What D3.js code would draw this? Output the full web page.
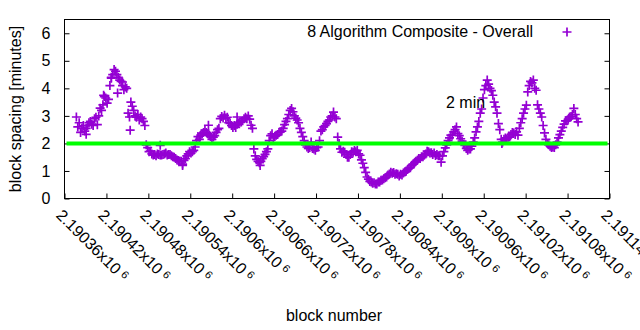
<!DOCTYPE html>
<html>
<head>
<meta charset="utf-8">
<script src="https://cdn.jsdelivr.net/npm/d3@7"></script>
<style>
  body { margin: 0; background: #fff; }
  svg { font-family: "Liberation Sans", Arial, sans-serif; }
</style>
</head>
<body>
<div id="chart"></div>
<script>
"use strict";
// block spacing, one reading every second block
const firstBlock = 2190377, blockStep = 2;
const spacing = [
  2.96,2.6,2.75,2.4,2.55,2.65,2.45,2.55,2.65,2.75,
  2.8,2.7,2.65,2.9,2.95,2.68,3.0,3.28,3.2,3.4,
  3.7,3.65,3.46,3.6,4.1,4.4,4.5,4.68,4.62,4.5,
  4.4,4.3,4.25,4.1,3.95,4.05,4.0,3.1,2.96,3.5,
  3.35,3.2,3.0,2.95,3.05,2.85,2.96,2.9,2.8,2.65,
  1.95,1.85,1.7,1.72,1.62,1.58,1.6,1.55,1.62,1.6,
  1.58,1.58,1.6,1.62,1.65,1.58,1.6,1.6,1.55,1.52,
  1.5,1.45,1.4,1.38,1.35,1.35,1.25,1.38,1.45,1.55,
  1.62,1.7,1.65,1.7,1.75,1.87,2.1,2.25,2.15,2.3,
  2.35,2.4,2.48,2.4,2.35,2.3,2.25,2.15,2.23,2.28,
  2.4,2.5,2.55,2.9,2.98,2.92,3.02,2.92,2.95,2.75,
  2.73,2.65,2.58,2.65,2.58,2.7,2.75,2.78,2.78,2.82,
  2.9,2.95,2.9,3.0,2.88,2.66,2.55,1.8,1.55,1.42,
  1.35,1.3,1.35,1.45,1.52,1.6,1.7,1.8,2.1,2.28,
  2.35,2.2,2.25,2.3,2.32,2.4,2.42,2.45,2.55,2.68,
  2.8,2.9,3.05,3.2,3.27,3.15,3.0,2.92,2.85,2.75,
  2.55,2.4,2.25,2.1,1.95,1.87,1.82,1.85,2.05,1.82,
  1.8,1.75,1.85,1.87,2.1,2.45,2.5,2.6,2.65,2.72,
  2.8,2.85,2.96,3.0,3.14,2.96,2.9,2.23,2.0,1.8,
  1.68,1.72,1.68,1.6,1.5,1.5,1.6,1.7,1.68,1.74,
  1.7,1.75,1.62,1.57,1.4,1.28,1.12,0.95,0.78,0.7,
  0.62,0.6,0.55,0.57,0.53,0.53,0.6,0.6,0.66,0.67,
  0.72,0.75,0.78,0.85,0.89,0.95,0.92,0.94,0.88,0.9,
  0.88,0.82,0.88,0.85,0.93,0.96,1.0,1.05,1.1,1.12,
  1.2,1.25,1.3,1.35,1.39,1.45,1.45,1.52,1.52,1.58,
  1.62,1.72,1.7,1.65,1.66,1.6,1.65,1.56,1.6,1.55,
  1.55,1.32,1.55,1.7,1.84,1.95,2.1,2.2,2.3,2.3,
  2.42,2.5,2.6,2.36,2.28,2.17,2.08,1.97,1.93,1.82,
  1.75,1.8,1.8,1.9,2.05,2.2,2.42,2.6,2.8,3.1,
  3.25,3.65,3.95,4.1,4.3,4.15,4.0,3.92,3.75,3.5,
  3.33,3.1,2.72,2.5,2.15,2.05,2.15,2.2,2.15,2.22,
  2.23,2.32,2.4,2.38,2.32,2.42,2.3,2.55,2.75,2.9,
  3.1,3.25,3.39,3.87,4.1,4.25,4.2,4.3,4.0,3.93,
  3.4,3.25,3.1,2.96,2.65,2.38,2.15,2.0,1.95,1.9,
  1.85,1.87,1.85,1.95,2.05,2.2,2.32,2.45,2.58,2.7,
  2.82,2.82,2.88,2.96,2.98,3.05,3.27,3.05,2.9,2.78
];
// stray points that sit off the main band
const extraBlocks  = [2190391, 2190416, 2190427, 2190436, 2190443, 2190454, 2190497, 2190529, 2190566, 2190607, 2190640, 2190986];
const extraSpacing = [2.33, 3.75, 4.37, 3.83, 4.23, 2.48, 1.93, 1.2, 2.66, 2.96, 1.2, 2.0];

const xTicks = [2190360, 2190420, 2190480, 2190540, 2190600, 2190660, 2190720,
                2190780, 2190840, 2190900, 2190960, 2191020, 2191080, 2191140];
const yTicks = [0, 1, 2, 3, 4, 5, 6];
const targetSpacing = 2;
const seriesName = "8 Algorithm Composite - Overall";
const targetName = "2 min";

const W = 640, H = 330;
const plot = { left: 64.5, right: 609.5, top: 19.5, bottom: 198.5 };
const purple = "#9400d3";
const fontSize = 16;
const cross = "M-4.5,0H4.5M0,-4.5V4.5";

let points = spacing.map((v, i) => ({ block: firstBlock + i * blockStep, value: v }));
extraBlocks.forEach((b, i) => points.push({ block: b, value: extraSpacing[i] }));

let svg = d3.select("#chart").append("svg")
    .attr("width", W).attr("height", H);

let x = d3.scaleLinear().domain([2190360, 2191140]).range([plot.left, plot.right]);
let y = d3.scaleLinear().domain([0, 6.5]).range([plot.bottom, plot.top]);

// axes (gnuplot style: ticks point inwards, y ticks mirrored)
svg.append("g")
    .attr("transform", "translate(0," + plot.bottom + ")")
    .call(d3.axisBottom(x).tickValues(xTicks).tickSize(-5).tickFormat(""))
    .call(g => g.select(".domain").remove());
svg.append("g")
    .attr("transform", "translate(" + plot.left + ",0)")
    .call(d3.axisLeft(y).tickValues(yTicks).tickSize(-5).tickPadding(14).tickFormat(d3.format("d")))
    .call(g => g.select(".domain").remove())
    .call(g => g.selectAll("text").attr("font-size", fontSize).attr("font-family", null).attr("fill", "#000"));
svg.append("g")
    .attr("transform", "translate(" + plot.right + ",0)")
    .call(d3.axisRight(y).tickValues(yTicks).tickSize(-5).tickFormat(""))
    .call(g => g.select(".domain").remove());

// rotated x tick labels like "2.19036x10^6"
let xLabels = svg.append("g").selectAll("text")
    .data(xTicks)
    .enter().append("text")
    .attr("transform", d => "translate(" + (x(d) - 1) + "," + 208 + ") rotate(45)")
    .attr("font-size", fontSize)
    .attr("dy", "0.72em");
xLabels.append("tspan").text(d => +(d / 1e6).toFixed(5) + "x10");
xLabels.append("tspan").attr("font-size", 11).attr("dx", 4).attr("dy", -4).text("6");

// points
svg.append("g")
    .selectAll("path")
    .data(points)
    .enter().append("path")
    .attr("transform", d => "translate(" + x(d.block) + "," + y(d.value) + ")")
    .attr("d", cross)
    .attr("stroke", purple)
    .attr("stroke-width", 1.7);

// 2 minute target line
svg.append("line")
    .attr("x1", x.range()[0] + 2).attr("x2", x.range()[1] - 2)
    .attr("y1", y(targetSpacing)).attr("y2", y(targetSpacing))
    .attr("stroke", "#00ff00")
    .attr("stroke-width", 4);

// frame
svg.append("rect")
    .attr("x", plot.left).attr("y", plot.top)
    .attr("width", plot.right - plot.left).attr("height", plot.bottom - plot.top)
    .attr("fill", "none").attr("stroke", "#000");

// legend
svg.append("text")
    .attr("x", 533).attr("y", 37)
    .attr("text-anchor", "end").attr("font-size", fontSize)
    .text(seriesName);
svg.append("path")
    .attr("transform", "translate(567,32)")
    .attr("d", cross)
    .attr("stroke", purple).attr("stroke-width", 1.7);

svg.append("text")
    .attr("x", 446).attr("y", 108)
    .attr("font-size", fontSize)
    .text(targetName);

// axis titles
svg.append("text")
    .attr("x", 334).attr("y", 321)
    .attr("text-anchor", "middle").attr("font-size", fontSize)
    .text("block number");
svg.append("text")
    .attr("transform", "translate(21," + ((plot.top + plot.bottom) / 2) + ") rotate(-90)")
    .attr("text-anchor", "middle").attr("font-size", fontSize)
    .text("block spacing [minutes]");
</script>
</body>
</html>
